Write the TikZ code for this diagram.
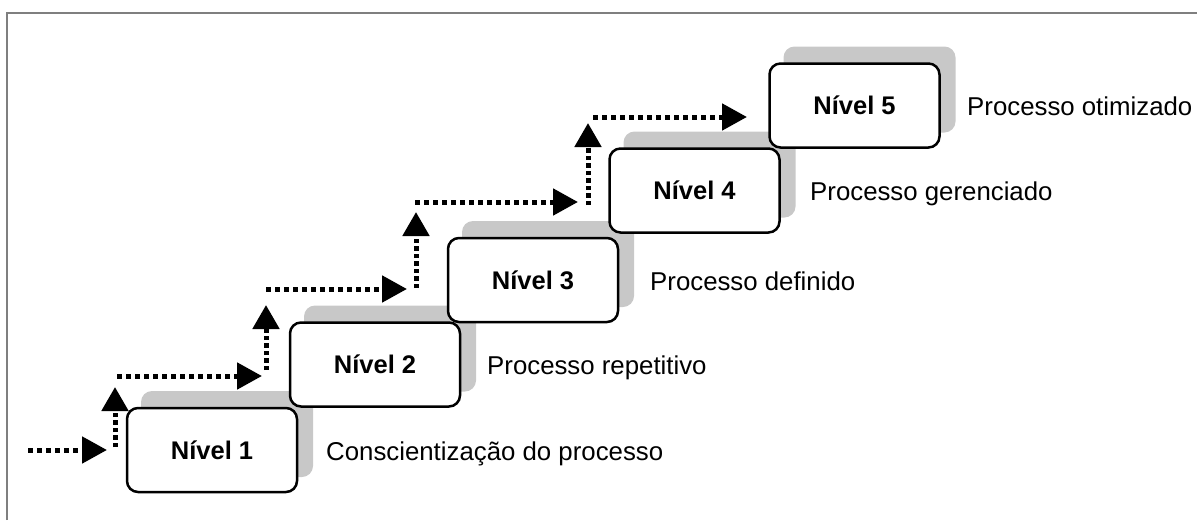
\documentclass[tikz,border=0pt]{standalone}
\usepackage{fontspec}
\setmainfont{Liberation Sans}
\usetikzlibrary{arrows.meta}

\definecolor{framegray}{HTML}{7F7F7F}
\definecolor{shadowgray}{HTML}{C8C8C8}

\tikzset{
  level/.style={draw=black, line width=2.5pt, fill=white, rounded corners=11pt,
    minimum width=170pt, minimum height=84pt, inner sep=0pt,
    font=\fontsize{25.5}{30}\selectfont\bfseries},
  levelshadow/.style={fill=shadowgray, rounded corners=11pt,
    minimum width=172pt, minimum height=86pt, inner sep=0pt},
  caption/.style={anchor=base west, inner sep=0pt,
    font=\fontsize{25.8}{30}\selectfont},
  hstep/.style={line width=5pt, dash pattern=on 5pt off 4pt,
    -{Triangle[length=25pt,width=26pt]}},
  vstep/.style={line width=5pt, dash pattern=on 4.5pt off 3pt,
    -{Triangle[length=24pt,width=26pt]}},
}

\begin{document}
\begin{tikzpicture}[x=1pt,y=-1pt]
\useasboundingbox (0,0) rectangle (1197,520);

% open frame: left and top edges
\draw[framegray, line width=2.5pt] (7,520) -- (7,13) -- (1197,13);

% shadows behind the level boxes
\foreach \cx/\cy [count=\i] in {212/450, 375/364.5, 533/280, 694.5/190.5, 854.5/105.5}
  \node[levelshadow] (s\i) at (\cx+15,\cy-16) {};

% level boxes
\node[level] (n1) at (212,450)     {Nível 1};
\node[level] (n2) at (375,364.5)   {Nível 2};
\node[level] (n3) at (533,280)     {Nível 3};
\node[level] (n4) at (694.5,190.5) {Nível 4};
\node[level] (n5) at (854.5,105.5) {Nível 5};

% captions
\node[caption] (c1) at (326,460)   {Conscientização do processo};
\node[caption] (c2) at (487,374.5) {Processo repetitivo};
\node[caption] (c3) at (650,290)   {Processo definido};
\node[caption] (c4) at (810,200.5) {Processo gerenciado};
\node[caption] (c5) at (967,115.5) {Processo otimizado};

% stair path points
\coordinate (a0) at (28,450);  \coordinate (a1) at (107,450);
\coordinate (b0) at (115,447); \coordinate (b1) at (115,387);
\coordinate (c0) at (117,376); \coordinate (c1p) at (262,376);
\coordinate (d0) at (266,370); \coordinate (d1) at (266,305);
\coordinate (e0) at (266,289); \coordinate (e1) at (407,289);
\coordinate (f0) at (416,288); \coordinate (f1) at (416,212);
\coordinate (g0) at (415,202); \coordinate (g1) at (578,202);
\coordinate (h0) at (588,205); \coordinate (h1) at (588,123);
\coordinate (i0) at (593,117); \coordinate (i1) at (747,117);

% dotted stair arrows
\draw[hstep] (a0) -- (a1);
\draw[vstep] (b0) -- (b1);
\draw[hstep] (c0) -- (c1p);
\draw[vstep] (d0) -- (d1);
\draw[hstep] (e0) -- (e1);
\draw[vstep] (f0) -- (f1);
\draw[hstep] (g0) -- (g1);
\draw[vstep] (h0) -- (h1);
\draw[hstep] (i0) -- (i1);
\end{tikzpicture}
\end{document}
